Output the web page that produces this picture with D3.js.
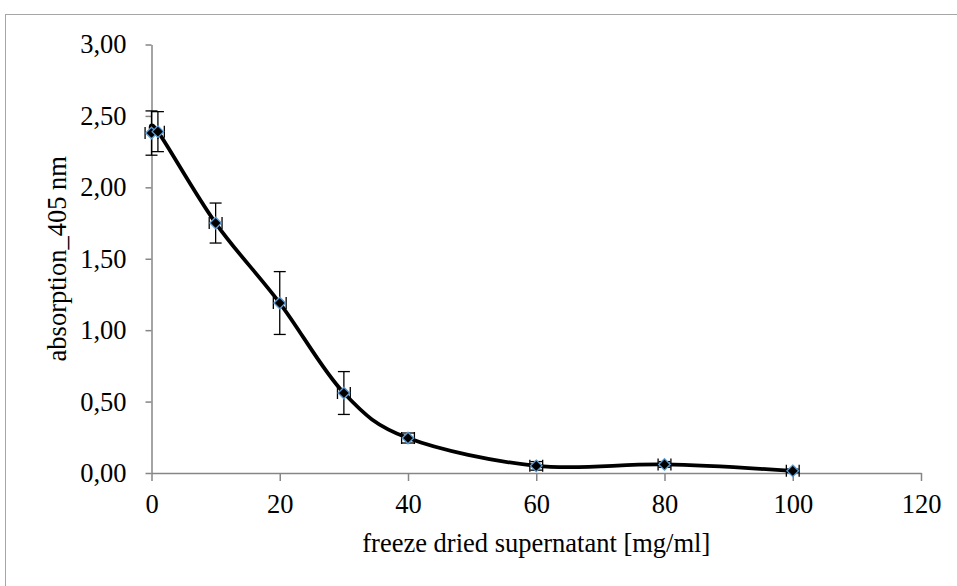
<!DOCTYPE html>
<html>
<head>
<meta charset="utf-8">
<script src="https://cdn.jsdelivr.net/npm/d3@7"></script>
<style>
    body { margin: 0; background: #fff; }
    text { font-family: "Liberation Serif", "Times New Roman", serif; fill: #000; }
</style>
</head>
<body>
<div id="container"></div>
<script>
// concentration of freeze dried supernatant [mg/ml]
var concentration = [0, 1, 10, 20, 30, 40, 60, 80, 100];
// absorption at 405 nm
var absorption = [2.38, 2.39, 1.75, 1.19, 0.56, 0.245, 0.05, 0.06, 0.015];
var absorptionError = [0.155, 0.14, 0.14, 0.22, 0.15, 0.035, 0.03, 0.02, 0.012];
var concentrationError = [1, 1, 1, 1, 1, 1, 1, 1, 1];

var xTicks = [0, 20, 40, 60, 80, 100, 120];
var yTicks = [0, 0.5, 1, 1.5, 2, 2.5, 3];

var width = 957, height = 586;
var margin = { top: 44.5, right: 36, bottom: 113, left: 151.5 };
var fontSize = "26.5px";

var svg = d3.select("#container").append("svg")
    .attr("width", width)
    .attr("height", height);

// chart frame (right and bottom edge fall outside the picture)
svg.append("rect")
    .attr("x", 5.5).attr("y", 14.5)
    .attr("width", width + 20).attr("height", height + 20)
    .attr("fill", "#fff")
    .attr("stroke", "#a6a6a6")
    .attr("stroke-width", 1);

var x = d3.scaleLinear().domain([0, 120]).range([margin.left, width - margin.right]);
var y = d3.scaleLinear().domain([0, 3]).range([height - margin.bottom, margin.top]);

var fmt = function (d) { return d3.format(".2f")(d).replace(".", ","); };

var xAxis = svg.append("g")
    .attr("transform", "translate(0," + y(0) + ")")
    .call(d3.axisBottom(x).tickValues(xTicks).tickSize(8).tickSizeOuter(0).tickPadding(13.5));

var yAxis = svg.append("g")
    .attr("transform", "translate(" + x(0) + ",0)")
    .call(d3.axisLeft(y).tickValues(yTicks).tickFormat(fmt).tickSize(6).tickSizeOuter(0).tickPadding(19));

svg.selectAll(".domain, .tick line")
    .attr("stroke", "#868686")
    .attr("stroke-width", 1.5);
svg.selectAll(".tick text")
    .attr("fill", "#000")
    .style("font-size", fontSize)
    .style("font-family", "Liberation Serif, Times New Roman, serif");

// axis titles
svg.append("text")
    .attr("x", (x(0) + x(120)) / 2)
    .attr("y", 552)
    .attr("text-anchor", "middle")
    .style("font-size", fontSize)
    .text("freeze dried supernatant [mg/ml]");

svg.append("text")
    .attr("transform", "translate(66," + (y(0) + y(3)) / 2 + ") rotate(-90)")
    .attr("text-anchor", "middle")
    .style("font-size", fontSize)
    .text("absorption_405 nm");

var data = concentration.map(function (c, i) {
    return { x: c, y: absorption[i], ey: absorptionError[i], ex: concentrationError[i] };
});

// smoothed line
var line = d3.line()
    .x(function (d) { return x(d.x); })
    .y(function (d) { return y(d.y); })
    .curve(d3.curveCardinal.tension(0));

svg.append("path")
    .datum(data)
    .attr("d", line)
    .attr("fill", "none")
    .attr("stroke", "#000")
    .attr("stroke-width", 3.75)
    .attr("stroke-linejoin", "round");

// error bars
var bars = svg.append("g")
    .attr("stroke", "#000")
    .attr("stroke-width", 1.3)
    .attr("fill", "none");

function drawErrorBar(d)
{
    var cx = x(d.x), cy = y(d.y);
    var yHi = y(d.y + d.ey), yLo = y(d.y - d.ey);
    var xLo = x(d.x - d.ex), xHi = x(d.x + d.ex);
    var cap = 6;

    bars.append("line").attr("x1", cx).attr("x2", cx).attr("y1", yHi).attr("y2", yLo);
    bars.append("line").attr("x1", cx - cap).attr("x2", cx + cap).attr("y1", yHi).attr("y2", yHi);
    bars.append("line").attr("x1", cx - cap).attr("x2", cx + cap).attr("y1", yLo).attr("y2", yLo);

    bars.append("line").attr("x1", xLo).attr("x2", xHi).attr("y1", cy).attr("y2", cy);
    bars.append("line").attr("x1", xLo).attr("x2", xLo).attr("y1", cy - cap).attr("y2", cy + cap);
    bars.append("line").attr("x1", xHi).attr("x2", xHi).attr("y1", cy - cap).attr("y2", cy + cap);
}

for (const d of data)
{
    drawErrorBar(d);
}

// diamond markers
svg.append("g")
    .selectAll("path")
    .data(data)
    .join("path")
    .attr("d", d3.symbol().type(d3.symbolDiamond2).size(85))
    .attr("transform", function (d) { return "translate(" + x(d.x) + "," + y(d.y) + ")"; })
    .attr("fill", "#000")
    .attr("stroke", "#5b9bd5")
    .attr("stroke-width", 1.3);
</script>
</body>
</html>
